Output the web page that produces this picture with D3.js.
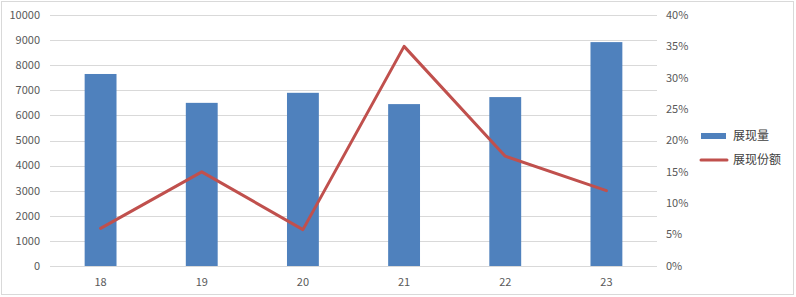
<!DOCTYPE html>
<html>
<head>
<meta charset="utf-8">
<script src="https://cdn.jsdelivr.net/npm/d3@7"></script>
<style>
  body { margin: 0; background: #fff; }
  svg { display: block; font-family: "Microsoft YaHei", "Noto Sans CJK SC", "DejaVu Sans", sans-serif; }
  .tick-label { fill: #595959; font-size: 11px; }
  .legend-label { fill: #404040; font-size: 12px; }
</style>
</head>
<body>
<div id="chart"></div>
<script>
// categories and series
const categories = ["18", "19", "20", "21", "22", "23"];
const views = [7650, 6500, 6900, 6450, 6730, 8920];          // 展现量
const share = [0.06, 0.15, 0.058, 0.35, 0.175, 0.12];        // 展现份额
const leftTicks = [0, 1000, 2000, 3000, 4000, 5000, 6000, 7000, 8000, 9000, 10000];
const rightTicks = [0, 0.05, 0.10, 0.15, 0.20, 0.25, 0.30, 0.35, 0.40];
const seriesNames = ["展现量", "展现份额"];

const width = 796, height = 297;
const plot = {left: 50, right: 657, top: 15, bottom: 266};

const svg = d3.select("#chart").append("svg")
    .attr("width", width)
    .attr("height", height);

// outer frame
svg.append("rect")
    .attr("x", 1.5).attr("y", 1.5)
    .attr("width", width - 4).attr("height", height - 4)
    .attr("fill", "none")
    .attr("stroke", "#d9d9d9");

const x = d3.scaleBand()
    .domain(categories)
    .range([plot.left, plot.right])
    .padding(0);

const yLeft = d3.scaleLinear().domain([0, 10000]).range([plot.bottom, plot.top]);
const yRight = d3.scaleLinear().domain([0, 0.40]).range([plot.bottom, plot.top]);

// gridlines
svg.append("g")
    .selectAll("line")
    .data(leftTicks)
    .join("line")
        .attr("x1", plot.left)
        .attr("x2", plot.right)
        .attr("y1", d => Math.round(yLeft(d)) + 0.5)
        .attr("y2", d => Math.round(yLeft(d)) + 0.5)
        .attr("stroke", "#d9d9d9")
        .attr("stroke-width", 1);

// left axis labels
svg.append("g")
    .selectAll("text")
    .data(leftTicks)
    .join("text")
        .attr("class", "tick-label")
        .attr("x", plot.left - 10)
        .attr("y", d => yLeft(d))
        .attr("dy", "0.35em")
        .style("text-anchor", "end")
        .text(d => d);

// right axis labels
svg.append("g")
    .selectAll("text")
    .data(rightTicks)
    .join("text")
        .attr("class", "tick-label")
        .attr("x", plot.right + 9)
        .attr("y", d => yRight(d))
        .attr("dy", "0.35em")
        .style("text-anchor", "start")
        .text(d => d3.format(".0%")(d));

// x axis labels
svg.append("g")
    .selectAll("text")
    .data(categories)
    .join("text")
        .attr("class", "tick-label")
        .attr("x", d => x(d) + x.bandwidth() / 2)
        .attr("y", plot.bottom + 16)
        .attr("dy", "0.35em")
        .style("text-anchor", "middle")
        .text(d => d);

// bars
const barWidth = x.bandwidth() * 0.315;
svg.append("g")
    .selectAll("rect")
    .data(views)
    .join("rect")
        .attr("x", (d, i) => x(categories[i]) + (x.bandwidth() - barWidth) / 2)
        .attr("y", d => yLeft(d))
        .attr("width", barWidth)
        .attr("height", d => yLeft(0) - yLeft(d))
        .attr("fill", "#4f81bd");

// share line
const line = d3.line()
    .x((d, i) => x(categories[i]) + x.bandwidth() / 2)
    .y(d => yRight(d));

svg.append("path")
    .datum(share)
    .attr("d", line)
    .attr("fill", "none")
    .attr("stroke", "#c0504d")
    .attr("stroke-width", 3)
    .attr("stroke-linejoin", "round")
    .attr("stroke-linecap", "round");

// legend
const legend = svg.append("g").attr("transform", "translate(701, 136)");
legend.append("rect")
    .attr("x", 0).attr("y", -3)
    .attr("width", 25).attr("height", 6)
    .attr("fill", "#4f81bd");
legend.append("text")
    .attr("class", "legend-label")
    .attr("x", 32).attr("y", 0)
    .attr("dy", "0.35em")
    .text(seriesNames[0]);
legend.append("line")
    .attr("x1", 0).attr("x2", 26)
    .attr("y1", 24).attr("y2", 24)
    .attr("stroke", "#c0504d")
    .attr("stroke-width", 3)
    .attr("stroke-linecap", "round");
legend.append("text")
    .attr("class", "legend-label")
    .attr("x", 32).attr("y", 24)
    .attr("dy", "0.35em")
    .text(seriesNames[1]);
</script>
</body>
</html>
